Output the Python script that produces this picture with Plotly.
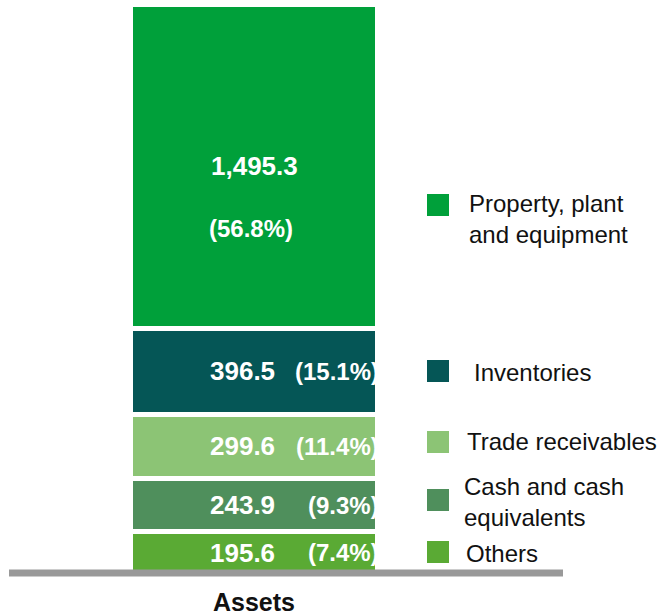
import plotly.graph_objects as go

# stacked from the bottom up
categories = ["Others", "Cash and cash equivalents", "Trade receivables",
              "Inventories", "Property, plant and equipment"]
legend_text = ["Others", "Cash and cash<br>equivalents", "Trade receivables",
               "Inventories", "Property, plant<br>and equipment"]
values = [195.6, 243.9, 299.6, 396.5, 1495.3]
shares = [7.4, 9.3, 11.4, 15.1, 56.8]
colors = ["#5aaa34", "#4f8f5c", "#8cc475", "#055656", "#00a03a"]
bar_label = "Assets"

FONT = "Liberation Sans, Arial, sans-serif"

# plot area in pixels (661 x 616 page)
L, R, T, B = 10, 98, 4, 42
W, H = 661, 616


def px_x(p):
    return (p - L) / (W - L - R)


def px_y(p):
    return (H - B - p) / (H - T - B)


fig = go.Figure()
for name, v, c in zip(categories, values, colors):
    fig.add_trace(go.Bar(
        x=[0], y=[v], name=name, width=1,
        marker=dict(color=c, line=dict(color="white", width=5)),
        showlegend=False, hoverinfo="skip",
    ))

# labels inside the bar
base = 0
for i, (v, s) in enumerate(zip(values, shares)):
    mid = base + v / 2
    base += v
    if i == len(values) - 1:
        fig.add_annotation(x=0, y=mid, text=f"<b>{v:,.1f}</b>", showarrow=False,
                           font=dict(size=26, color="white", family=FONT))
        fig.add_annotation(x=0, y=mid, yshift=-62, xshift=-3, text=f"<b>({s:.1f}%)</b>",
                           showarrow=False, font=dict(size=24, color="white", family=FONT))
    else:
        fig.add_annotation(x=0, y=mid, xshift=23, xanchor="right", text=f"<b>{v:,.1f}</b>",
                           showarrow=False, font=dict(size=26, color="white", family=FONT))
        fig.add_annotation(x=0.5, y=mid, xshift=3, xanchor="right", text=f"<b>({s:.1f}%)</b>",
                           showarrow=False, font=dict(size=24, color="white", family=FONT))

# custom legend aligned with the segments
sq_top = [541, 489, 431, 360, 194]
txt_x = [466, 464, 467, 474, 469]
txt_y = [553, 502, 442, 372, 219]
for lab, c, st, tx, ty in zip(legend_text, colors, sq_top, txt_x, txt_y):
    fig.add_shape(type="rect", xref="paper", yref="paper",
                  x0=px_x(427), x1=px_x(449), y0=px_y(st + 22), y1=px_y(st),
                  fillcolor=c, line=dict(width=0))
    fig.add_annotation(xref="paper", yref="paper", x=px_x(tx - 2), y=px_y(ty),
                       xanchor="left", yanchor="middle", align="left", text=lab,
                       showarrow=False, font=dict(size=24, color="#111111", family=FONT))

# base line
fig.add_shape(type="line", xref="paper", yref="paper",
              x0=px_x(9), x1=px_x(563), y0=px_y(573), y1=px_y(573),
              line=dict(color="#999999", width=7))

fig.add_annotation(x=0, y=0, yshift=-28, text=f"<b>{bar_label}</b>", showarrow=False,
                   borderpad=0, font=dict(size=25, color="#111111", family=FONT))

fig.update_layout(
    width=W, height=H,
    barmode="stack",
    paper_bgcolor="white", plot_bgcolor="white",
    margin=dict(l=L, r=R, t=T, b=B),
    font=dict(family=FONT),
    xaxis=dict(range=[-0.9879, 1.2510], visible=False, fixedrange=True),
    yaxis=dict(range=[0, 2633], visible=False, fixedrange=True),
)

fig.write_html("out.html", config={"displayModeBar": False},
               post_script="document.body.style.margin='0';")
